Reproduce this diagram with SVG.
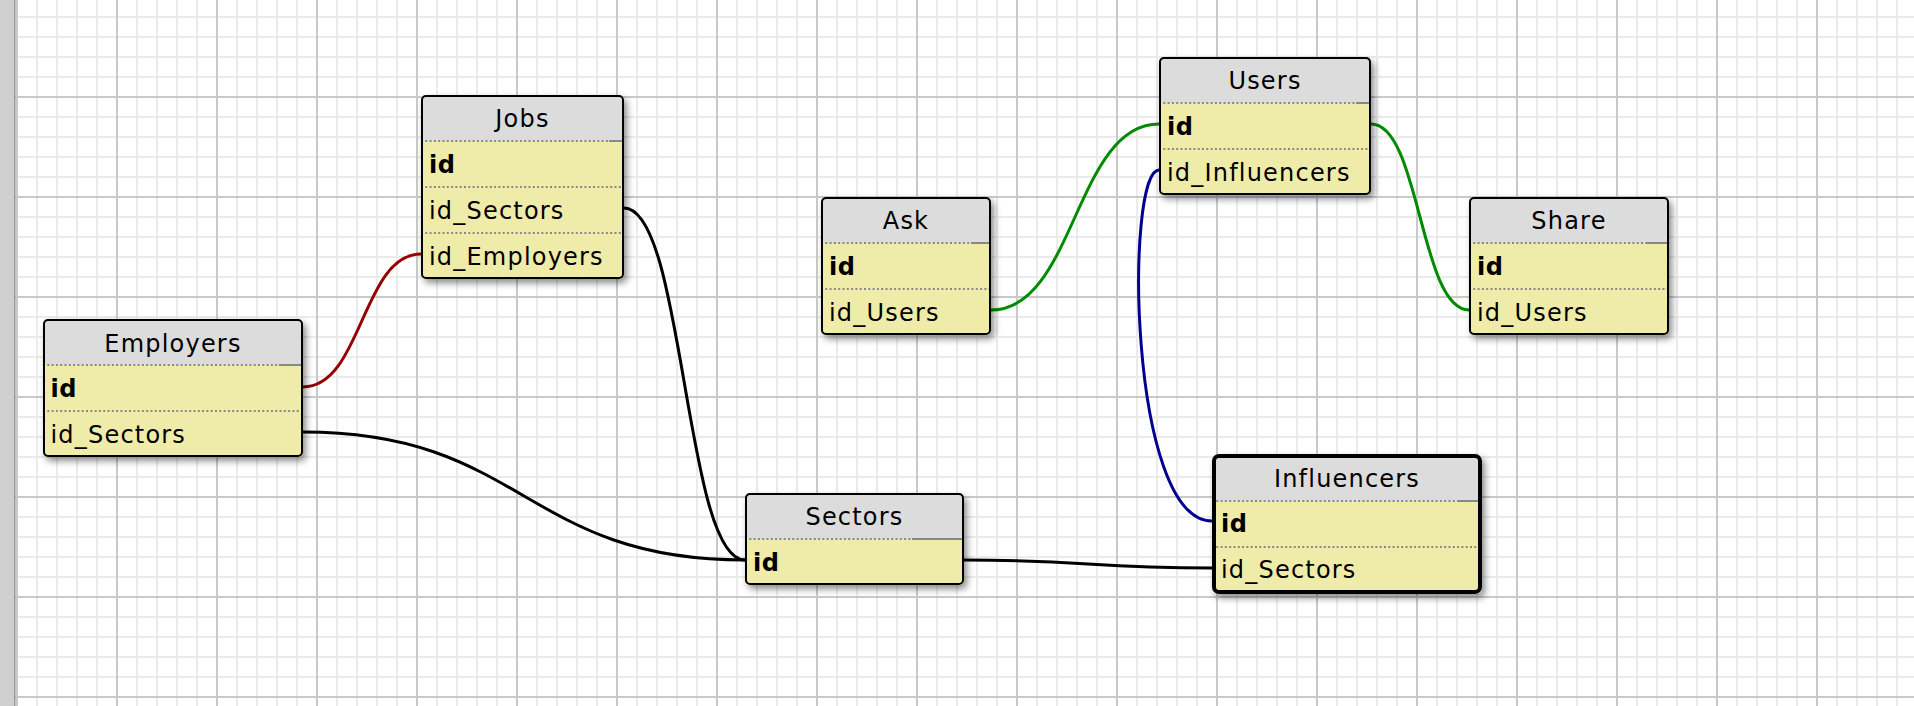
<svg xmlns="http://www.w3.org/2000/svg" width="1914" height="706" viewBox="0 0 1914 706">
<style>
.base{fill:#efeca9;filter:url(#sh)}
.hdr{fill:#dcdcdc}
.dot{stroke:#888;stroke-width:2;stroke-dasharray:2 2.3;fill:none}
.sol{stroke:#888;stroke-width:2;fill:none}
.frame{fill:none;stroke:#000;stroke-width:2}
.frame.sel{stroke-width:4}
text{font-family:"DejaVu Sans","Verdana",sans-serif;font-size:24px;letter-spacing:1.2px;fill:#000}
.t{text-anchor:middle}
.pk{font-weight:bold;letter-spacing:0.4px}
.c{fill:none;stroke-width:3;stroke-linecap:round}
</style>
<defs>
<pattern id="minor" width="20" height="20" x="16" y="16" patternUnits="userSpaceOnUse">
<rect width="20" height="2" fill="#ebebeb"/><rect width="2" height="20" fill="#ebebeb"/>
</pattern>
<pattern id="major" width="100" height="100" x="16" y="96" patternUnits="userSpaceOnUse">
<rect width="100" height="2" fill="#c9c9c9"/><rect width="2" height="100" fill="#c9c9c9"/>
</pattern>
<filter id="sh" x="-10%" y="-10%" width="130%" height="140%">
<feDropShadow dx="3" dy="4" stdDeviation="3.5" flood-color="#000" flood-opacity="0.45"/>
</filter>
</defs>
<rect width="1914" height="706" fill="#fff"/>
<rect width="1914" height="706" fill="url(#minor)"/>
<rect width="1914" height="706" fill="url(#major)"/>
<rect x="0" y="0" width="14" height="706" fill="#cfcfcf"/>
<rect x="14" y="0" width="1.6" height="706" fill="#9c9c9c"/>

<g id="connectors">
<path class="c" stroke="#960000" d="M303,387 C362,387 362,254 421,254"/>
<path class="c" stroke="#000" d="M303,432 C524,432 524,560 745,560"/>
<path class="c" stroke="#000" d="M624,208 C684.5,208 684.5,560 745,560"/>
<path class="c" stroke="#000" d="M964,560 C1088,560 1088,568 1212,568"/>
<path class="c" stroke="#008a00" d="M991,310 C1075,310 1075,124 1159,124"/>
<path class="c" stroke="#008a00" d="M1371,124 C1420,124 1420,310 1469,310"/>
<path class="c" stroke="#000090" d="M1159,170 C1125,170 1128,521 1212,521"/>
</g>

<g id="jobs" transform="translate(421,95)">
<rect class="base" width="203" height="184" rx="5"/>
<path class="hdr" d="M0,5 a5,5 0 0 1 5,-5 H198 a5,5 0 0 1 5,5 V46 H0 Z"/>
<line class="dot" x1="0" y1="46" x2="188" y2="46"/><line class="sol" x1="188" y1="46" x2="203" y2="46"/>
<line class="dot" x1="0" y1="92" x2="203" y2="92"/>
<line class="dot" x1="0" y1="138" x2="203" y2="138"/>
<rect class="frame" x="1" y="1" width="201" height="182" rx="4"/>
<text class="t" x="101.5" y="32">Jobs</text>
<text class="pk" x="8" y="78">id</text>
<text x="8" y="124">id_Sectors</text>
<text x="8" y="170">id_Employers</text>
</g>

<g id="employers" transform="translate(43,319)">
<rect class="base" width="260" height="138" rx="5"/>
<path class="hdr" d="M0,5 a5,5 0 0 1 5,-5 H255 a5,5 0 0 1 5,5 V46 H0 Z"/>
<line class="dot" x1="0" y1="46" x2="236" y2="46"/><line class="sol" x1="236" y1="46" x2="260" y2="46"/>
<line class="dot" x1="0" y1="92" x2="260" y2="92"/>
<rect class="frame" x="1" y="1" width="258" height="136" rx="4"/>
<text class="t" x="130" y="33">Employers</text>
<text class="pk" x="7.5" y="78">id</text>
<text x="7.5" y="124">id_Sectors</text>
</g>

<g id="ask" transform="translate(821,197)">
<rect class="base" width="170" height="138" rx="5"/>
<path class="hdr" d="M0,5 a5,5 0 0 1 5,-5 H165 a5,5 0 0 1 5,5 V46 H0 Z"/>
<line class="dot" x1="0" y1="46" x2="150" y2="46"/><line class="sol" x1="150" y1="46" x2="170" y2="46"/>
<line class="dot" x1="0" y1="92" x2="170" y2="92"/>
<rect class="frame" x="1" y="1" width="168" height="136" rx="4"/>
<text class="t" x="85" y="32">Ask</text>
<text class="pk" x="8" y="78">id</text>
<text x="8" y="124">id_Users</text>
</g>

<g id="users" transform="translate(1159,57)">
<rect class="base" width="212" height="138" rx="5"/>
<path class="hdr" d="M0,5 a5,5 0 0 1 5,-5 H207 a5,5 0 0 1 5,5 V46 H0 Z"/>
<line class="dot" x1="0" y1="46" x2="197" y2="46"/><line class="sol" x1="197" y1="46" x2="212" y2="46"/>
<line class="dot" x1="0" y1="92" x2="212" y2="92"/>
<rect class="frame" x="1" y="1" width="210" height="136" rx="4"/>
<text class="t" x="106" y="32">Users</text>
<text class="pk" x="8" y="78">id</text>
<text x="8" y="124">id_Influencers</text>
</g>

<g id="share" transform="translate(1469,197)">
<rect class="base" width="200" height="138" rx="5"/>
<path class="hdr" d="M0,5 a5,5 0 0 1 5,-5 H195 a5,5 0 0 1 5,5 V46 H0 Z"/>
<line class="dot" x1="0" y1="46" x2="178" y2="46"/><line class="sol" x1="178" y1="46" x2="200" y2="46"/>
<line class="dot" x1="0" y1="92" x2="200" y2="92"/>
<rect class="frame" x="1" y="1" width="198" height="136" rx="4"/>
<text class="t" x="100" y="32">Share</text>
<text class="pk" x="8" y="78">id</text>
<text x="8" y="124">id_Users</text>
</g>

<g id="sectors" transform="translate(745,493)">
<rect class="base" width="219" height="92" rx="5"/>
<path class="hdr" d="M0,5 a5,5 0 0 1 5,-5 H214 a5,5 0 0 1 5,5 V46 H0 Z"/>
<line class="dot" x1="0" y1="46" x2="167" y2="46"/><line class="sol" x1="167" y1="46" x2="219" y2="46"/>
<rect class="frame" x="1" y="1" width="217" height="90" rx="4"/>
<text class="t" x="109.5" y="32">Sectors</text>
<text class="pk" x="8" y="78">id</text>
</g>

<g id="influencers" transform="translate(1212,454)">
<rect class="base" width="270" height="140" rx="6"/>
<path class="hdr" d="M0,6 a6,6 0 0 1 6,-6 H264 a6,6 0 0 1 6,6 V47 H0 Z"/>
<line class="dot" x1="0" y1="47" x2="245" y2="47"/><line class="sol" x1="245" y1="47" x2="270" y2="47"/>
<line class="dot" x1="0" y1="93" x2="270" y2="93"/>
<rect class="frame sel" x="2" y="2" width="266" height="136" rx="5"/>
<text class="t" x="135" y="33">Influencers</text>
<text class="pk" x="9" y="78">id</text>
<text x="9" y="124">id_Sectors</text>
</g>
</svg>
